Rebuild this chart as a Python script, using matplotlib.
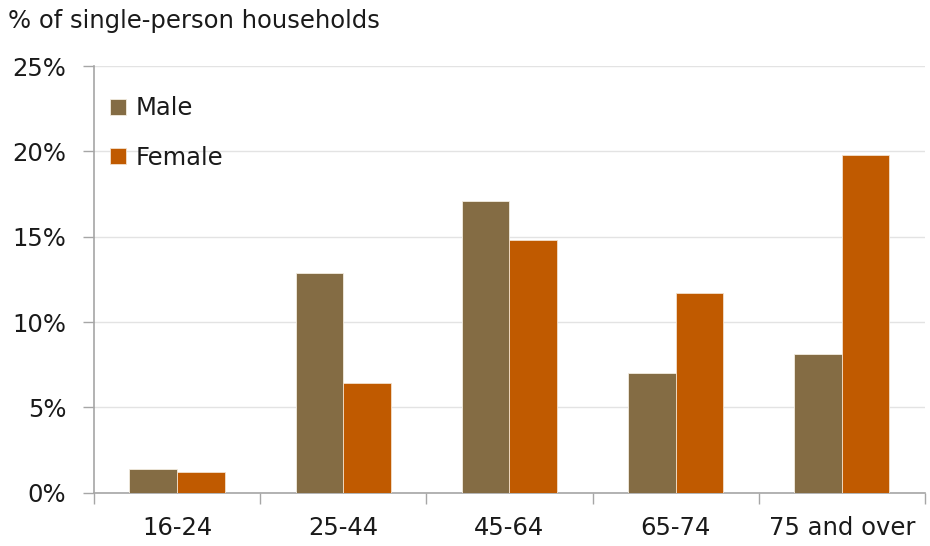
import numpy as np
import matplotlib.pyplot as plt
from matplotlib.ticker import FixedLocator, NullFormatter, FixedFormatter

# data (% of single-person households)
age_groups = ['16-24', '25-44', '45-64', '65-74', '75 and over']
male = [1.4, 12.9, 17.1, 7.0, 8.1]
female = [1.2, 6.4, 14.8, 11.7, 19.8]
y_ticks = [0, 5, 10, 15, 20, 25]

male_col = '#846C44'
female_col = '#C05A00'
txt_col = '#1a1a1a'
axis_col = '#a6a6a6'
fs = 17.5

plt.rcParams['font.family'] = ['DejaVu Sans']

fig = plt.figure(figsize=(9.3, 5.46), dpi=100)
ax = fig.add_axes([0.101, 0.0976, 0.8936, 0.7815])

x = np.arange(len(age_groups))
w = 0.286
ax.bar(x - w / 2, male, w, color=male_col, edgecolor='#f3ece0', linewidth=0.6, label='Male', zorder=3)
ax.bar(x + w / 2, female, w, color=female_col, edgecolor='#f3e0cc', linewidth=0.6, label='Female', zorder=3)

ax.set_xlim(-0.5, len(age_groups) - 0.5)
ax.set_ylim(0, 25)

# y axis
ax.set_yticks(y_ticks)
ax.set_yticklabels([f'{v}%' for v in y_ticks])
ax.yaxis.grid(True, color='#e3e3e3', linewidth=1.0, zorder=0)
ax.tick_params(axis='y', length=8, width=1, color=axis_col, labelsize=fs, labelcolor=txt_col, pad=12)

# x axis: ticks on category boundaries, labels centered
ax.xaxis.set_major_locator(FixedLocator(np.arange(-0.5, len(age_groups), 1.0)))
ax.xaxis.set_major_formatter(NullFormatter())
ax.xaxis.set_minor_locator(FixedLocator(x))
ax.xaxis.set_minor_formatter(FixedFormatter(age_groups))
ax.tick_params(axis='x', which='major', length=8, width=1, color=axis_col)
ax.tick_params(axis='x', which='minor', length=0, labelsize=fs, labelcolor=txt_col, pad=17)

for s in ['top', 'right']:
    ax.spines[s].set_visible(False)
for s in ['left', 'bottom']:
    ax.spines[s].set_color(axis_col)
    ax.spines[s].set_linewidth(1.2)

leg = ax.legend(loc='upper left', bbox_to_anchor=(0.008, 0.952), frameon=False,
                fontsize=fs, handlelength=0.65, handleheight=0.65, handletextpad=0.4,
                labelspacing=1.05, borderaxespad=0)
for t in leg.get_texts():
    t.set_color(txt_col)

fig.text(8 / 930, 1 - 9 / 546, '% of single-person households', ha='left', va='top',
         fontsize=fs, color=txt_col)

fig.savefig('out.png', dpi=100)
